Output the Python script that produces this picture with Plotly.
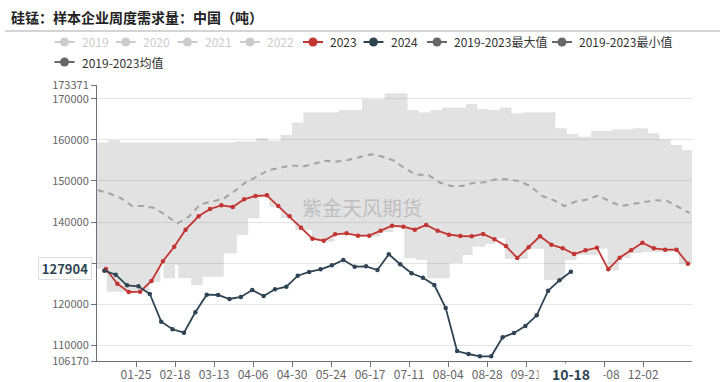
import pandas as pd
import plotly.graph_objects as go

# ---------------- data ----------------
TITLE = "硅锰：样本企业周度需求量：中国（吨）"

# 2023 weekly values (Fridays from 2023-01-06)
v2023 = [128572, 124993, 122972, 123044, 125650, 130447, 133997, 138148, 141404, 143182,
         144075, 143669, 145544, 146348, 146510, 143912, 141404, 138636, 135950, 135463,
         137021, 137264, 136680, 136680, 137897, 139115, 138871, 138141, 139286, 137897,
         136923, 136607, 136534, 137094, 135804, 134172, 131250, 133855, 136534, 134489,
         133613, 132225, 133126, 133758, 128498, 131323, 133126, 134976, 133613, 133272,
         133272, 129862]

# 2024 weekly values (Fridays from 2024-01-05)
v2024 = [128158, 127184, 124604, 124360, 122485, 115741, 113890, 113061, 118028, 122314,
         122241, 121267, 121754, 123459, 121998, 123629, 124262, 126941, 127842, 128498,
         129472, 130764, 129131, 129228, 128329, 132151, 129716, 127525, 126454, 124676,
         119076, 108605, 107875, 107314, 107314, 111941, 112988, 114693, 117298, 123288,
         125820, 127904]

# 2019-2023 mean (weekly from 01-01)
v_mean = [147800, 147000, 145900, 143900, 143900, 143400, 141600, 139700, 141300, 144300,
          145000, 145600, 147500, 149700, 151100, 152600, 153200, 153800, 153500, 154200,
          154900, 154750, 155100, 155800, 156500, 155950, 155000, 153000, 151540, 151540,
          149700, 148780, 148780, 149500, 149700, 150400, 150400, 150000, 148800, 146400,
          145400, 143900, 145000, 145500, 146500, 145000, 143900, 144400, 144900, 145300,
          145200, 143600, 142200]

# 2019-2023 max (step starts, MM-DD)
max_dates = ["01-01", "01-08", "01-15", "03-26", "04-08", "04-15", "04-23", "04-30", "05-07",
             "05-29", "06-12", "06-26", "07-10", "07-17", "07-24", "07-31", "08-15", "08-22",
             "08-29", "09-05", "09-12", "09-19", "10-09", "10-16", "10-23", "10-31", "11-13",
             "11-26", "12-05", "12-12", "12-19", "12-26", "END"]
max_vals = [159400, 159900, 159400, 159600, 160400, 159770, 161220, 164220, 166750,
            167310, 169910, 171370, 167310, 166660, 167310, 167880, 168730, 167550,
            167310, 167880, 166500, 166750, 162830, 161440, 160790, 162190, 162600,
            162830, 161610, 160150, 158760, 157540, 157540]

# 2019-2023 min (step starts, MM-DD)
min_dates = ["01-01", "01-07", "02-02", "02-09", "02-11", "02-18", "02-20", "02-28", "03-06",
             "03-19", "03-27", "04-03", "04-10", "04-16", "04-23", "05-02", "05-05", "05-12",
             "05-19", "05-26", "06-02", "06-09", "06-23", "07-01", "07-08", "07-15", "07-22",
             "08-05", "08-13", "08-19", "08-27", "09-02", "09-08", "09-22", "10-02", "10-15",
             "10-22", "11-04", "11-10", "11-17", "11-24", "12-02", "12-24", "END"]
min_vals = [128570, 123050, 125480, 130760, 126300, 129550, 126300, 124680, 126700,
            132390, 136850, 140920, 146200, 143740, 141000, 138000, 138000, 135700,
            135200, 136800, 137000, 136400, 137600, 138600, 131180, 130760, 126300,
            130030, 131980, 134000, 134660, 136000, 131000, 133500, 125890, 130760,
            132000, 133500, 128330, 131250, 132470, 132700, 129700, 129700]

x_ticks = ["01-25", "02-18", "03-13", "04-06", "04-30", "05-24", "06-17", "07-11",
           "08-04", "08-28", "09-21", "10-15", "11-08", "12-02"]
y_ticks = [106170, 110000, 120000, 130000, 140000, 150000, 160000, 170000, 173371]
Y_MIN, Y_MAX = 106170, 173371
POINTER_DATE = "10-18"
POINTER_VALUE = 127904

legend_names = ["2019", "2020", "2021", "2022", "2023", "2024",
                "2019-2023最大值", "2019-2023最小值", "2019-2023均值"]

# ---------------- helpers ----------------
AX_YEAR = "2024"
def md(s):
    if s == "END":
        return pd.Timestamp("2025-01-01")
    return pd.Timestamp(f"{AX_YEAR}-{s}")

HALF = pd.Timedelta(hours=12)
d2023 = [pd.Timestamp(f"{AX_YEAR}-{d.strftime('%m-%d')}") + HALF
         for d in pd.date_range("2023-01-06", periods=len(v2023), freq="7D")]
d2024 = [d + HALF for d in pd.date_range("2024-01-05", periods=len(v2024), freq="7D")]
d_mean = [d + HALF for d in pd.date_range("2024-01-01", periods=len(v_mean), freq="7D")]
x_max = [md(s) for s in max_dates]
x_min = [md(s) for s in min_dates]

W, H = 724, 382
L, R, T, B = 97, 32, 85, 21
PW, PH = W - L - R, H - T - B
def px(x):
    return (x - L) / PW
def py(y):
    return (H - B - y) / PH

FONT = "Noto Sans CJK SC, Noto Sans, sans-serif"
RED = "#c23531"
NAVY = "#2f4554"
GREY = "#666666"

fig = go.Figure()

# band: min then max filled to it
fig.add_trace(go.Scatter(x=x_min, y=min_vals, mode="lines", line=dict(width=0, shape="hv"),
                         hoverinfo="skip", showlegend=False))
fig.add_trace(go.Scatter(x=x_max, y=max_vals, mode="lines", line=dict(width=0, shape="hv"),
                         fill="tonexty", fillcolor="rgba(120,120,120,0.21)",
                         hoverinfo="skip", showlegend=False))
# mean
fig.add_trace(go.Scatter(x=d_mean, y=v_mean, mode="lines",
                         line=dict(color="#a3a3a3", width=2, dash="6px,5px"),
                         showlegend=False))
# 2023
fig.add_trace(go.Scatter(x=d2023, y=v2023, mode="lines+markers",
                         line=dict(color=RED, width=1.8),
                         marker=dict(size=4.5, color=RED), showlegend=False))
# 2024
fig.add_trace(go.Scatter(x=d2024, y=v2024, mode="lines+markers",
                         line=dict(color=NAVY, width=1.8),
                         marker=dict(size=4.5, color=NAVY), showlegend=False))

shapes = []
annotations = []

# title + separator
annotations.append(dict(xref="paper", yref="paper", x=px(9), y=py(17), xanchor="left",
                        yanchor="middle", showarrow=False,
                        text=f"<b>{TITLE}</b>",
                        font=dict(family=FONT, size=14, color="#222")))
shapes.append(dict(type="line", xref="paper", yref="paper", x0=px(5), x1=px(720),
                   y0=py(31), y1=py(31), line=dict(color="#aaaaaa", width=1)))

# manual legend
leg_pos = [(64.5, 42), (125.8, 42), (187.5, 42), (250, 42), (313, 42), (373.5, 42),
           (437, 42), (562, 42), (64.5, 62)]
leg_col = ["#cccccc"] * 4 + [RED, NAVY, GREY, GREY, GREY]
leg_txt = ["#cccccc"] * 4 + ["#333333"] * 5
for name, (cx, cy), c, tc in zip(legend_names, leg_pos, leg_col, leg_txt):
    shapes.append(dict(type="line", xref="paper", yref="paper", x0=px(cx - 10), x1=px(cx + 10),
                       y0=py(cy), y1=py(cy), line=dict(color=c, width=2)))
    r = 4.5
    shapes.append(dict(type="circle", xref="paper", yref="paper", x0=px(cx - r), x1=px(cx + r),
                       y0=py(cy + r), y1=py(cy - r), fillcolor=c, line=dict(color=c, width=0)))
    annotations.append(dict(xref="paper", yref="paper", x=px(cx + 15), y=py(cy),
                            xanchor="left", yanchor="middle", showarrow=False, text=name,
                            font=dict(family=FONT, size=12, color=tc)))

# watermark
annotations.append(dict(xref="paper", yref="paper", x=px(362), y=py(207), showarrow=False,
                        xanchor="center", yanchor="middle",
                        text="紫金天风期货", font=dict(family=FONT, size=20,
                                                    color="rgba(160,160,160,0.55)")))

# axis pointer labels
annotations.append(dict(xref="paper", yref="paper", x=px(65), y=py(268), showarrow=False,
                        xanchor="center", yanchor="middle",
                        text=f"<b>{POINTER_VALUE}</b>", width=50, height=19,
                        bgcolor="white", bordercolor="#dddddd", borderwidth=1,
                        font=dict(family=FONT, size=13, color=NAVY)))
annotations.append(dict(xref="x", yref="paper", x=md(POINTER_DATE) + HALF, y=py(373),
                        xanchor="center", yanchor="middle",
                        showarrow=False, text=f"<b>{POINTER_DATE}</b>", width=62, height=17,
                        bgcolor="white", font=dict(family=FONT, size=14, color=NAVY)))

fig.update_layout(
    width=W, height=H, margin=dict(l=L, r=R, t=T, b=B, autoexpand=False),
    paper_bgcolor="white", plot_bgcolor="white",
    shapes=shapes, annotations=annotations, showlegend=False,
    font=dict(family=FONT, color="#666666"),
    xaxis=dict(range=[md("01-01"), md("END")], tickmode="array",
               tickvals=[md(s) for s in x_ticks], ticktext=x_ticks,
               showgrid=False, showline=True, linecolor="#6e7079", linewidth=1,
               ticks="outside", ticklen=5, tickcolor="#6e7079", ticklabelstandoff=-2,
               tickfont=dict(family=FONT, size=12, color="#666666"), zeroline=False),
    yaxis=dict(range=[Y_MIN, Y_MAX], tickmode="array", tickvals=y_ticks,
               ticktext=[str(v) for v in y_ticks],
               showgrid=True, gridcolor="#e4e4e4", gridwidth=1,
               showline=True, linecolor="#6e7079", linewidth=1,
               ticks="outside", ticklen=5, tickcolor="#6e7079",
               tickfont=dict(family=FONT, size=11, color="#666666"), zeroline=False),
)

fig.write_html("out.html", config={"displayModeBar": False},
               post_script="document.body.style.margin='0';document.body.style.overflow='hidden';")
